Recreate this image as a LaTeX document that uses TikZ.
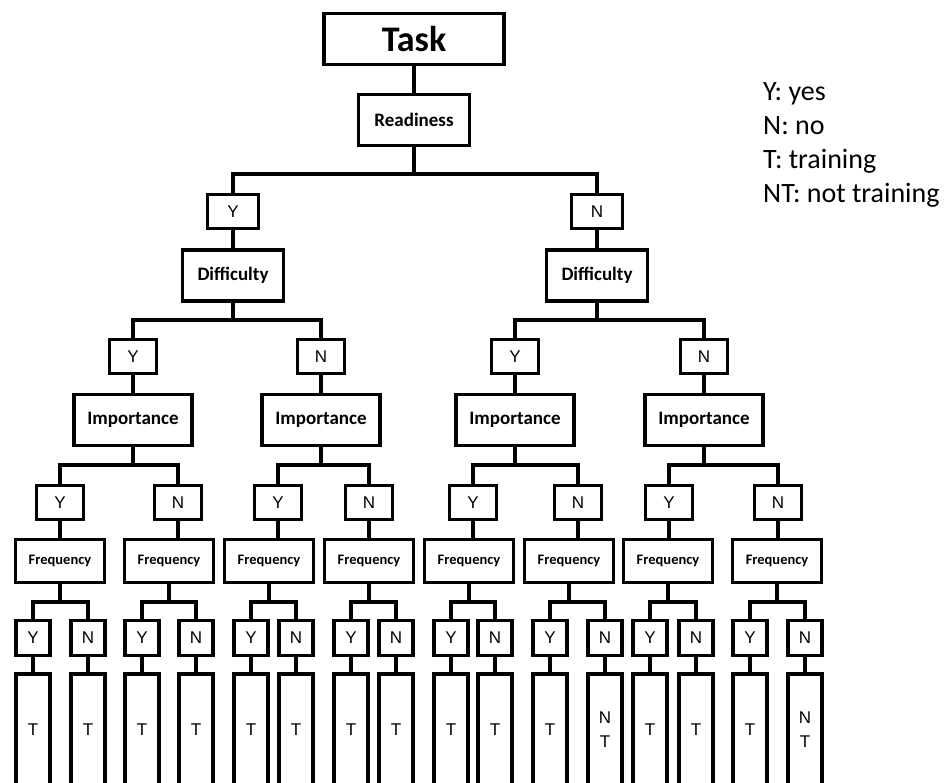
\documentclass[tikz,border=0pt]{standalone}
\usepackage{fontspec}
\setmainfont{Carlito}
\newfontfamily\arialfont{Liberation Sans}
\usepackage{tikz}

\begin{document}
\begin{tikzpicture}
[x=1pt,y=-1pt
,bx/.style={draw,line width=3.8pt,inner sep=0pt,align=center}
,q/.style={bx,font=\bfseries\fontsize{19}{23}\selectfont,minimum height=51pt}
,ans/.style={bx,font=\arialfont\fontsize{17}{19}\selectfont,minimum width=47pt,minimum height=34pt}
,fq/.style={bx,font=\bfseries\fontsize{14.5}{17}\selectfont,minimum width=89pt,minimum height=43pt}
,sans/.style={ans,minimum width=34pt,minimum height=35pt}
,leaf/.style={bx,font=\arialfont\fontsize{17}{24}\selectfont,minimum width=34pt,minimum height=112pt}
,ln/.style={line width=3.6pt}
]
\clip (0,0) rectangle (949,782);
% top
\node[bx,minimum width=180pt,minimum height=51pt,font=\bfseries\fontsize{36}{40}\selectfont] (task) at (414,39) {Task};
\node[q,minimum width=111pt] (rd) at (414,120) {Readiness};
\node[ans,minimum width=51pt] (y) at (233,211.5) {Y};
\node[ans,minimum width=51pt] (n) at (597,211.5) {N};
\node[q,minimum width=101pt] (dy) at (233,275.5) {Difficulty};
\node[q,minimum width=101pt] (dn) at (597,275.5) {Difficulty};
% importance level
\node[ans] (yy) at (133,356.5) {Y};
\node[ans] (yn) at (321,356.5) {N};
\node[ans] (ny) at (515,356.5) {Y};
\node[ans] (nn) at (704,356.5) {N};
\node[q,minimum width=118pt] (iyy) at (133,420) {Importance};
\node[q,minimum width=118pt] (iyn) at (321,420) {Importance};
\node[q,minimum width=118pt] (iny) at (515,420) {Importance};
\node[q,minimum width=118pt] (inn) at (704,420) {Importance};
% frequency level
\node[ans] (yyy) at (60,502.5) {Y};
\node[ans] (yyn) at (178,502.5) {N};
\node[ans] (yny) at (278,502.5) {Y};
\node[ans] (ynn) at (369,502.5) {N};
\node[ans] (nyy) at (473,502.5) {Y};
\node[ans] (nyn) at (578,502.5) {N};
\node[ans] (nny) at (669,502.5) {Y};
\node[ans] (nnn) at (778,502.5) {N};
\node[fq] (fyyy) at (60,561) {Frequency};
\node[fq] (fyyn) at (169,561) {Frequency};
\node[fq] (fyny) at (269,561) {Frequency};
\node[fq] (fynn) at (369,561) {Frequency};
\node[fq] (fnyy) at (469,561) {Frequency};
\node[fq] (fnyn) at (569,561) {Frequency};
\node[fq] (fnny) at (668,561) {Frequency};
\node[fq] (fnnn) at (777,561) {Frequency};
% last answers
\node[sans] (a1) at (33,638) {Y};
\node[sans] (a2) at (88,638) {N};
\node[sans] (a3) at (142,638) {Y};
\node[sans] (a4) at (196,638) {N};
\node[sans] (a5) at (251,638) {Y};
\node[sans] (a6) at (296,638) {N};
\node[sans] (a7) at (351,638) {Y};
\node[sans] (a8) at (396,638) {N};
\node[sans] (a9) at (451,638) {Y};
\node[sans] (a10) at (495,638) {N};
\node[sans] (a11) at (550,638) {Y};
\node[sans] (a12) at (605,638) {N};
\node[sans] (a13) at (650,638) {Y};
\node[sans] (a14) at (696,638) {N};
\node[sans] (a15) at (750,638) {Y};
\node[sans] (a16) at (805,638) {N};
% outcomes
\node[leaf] (t1) at (33,730) {T};
\node[leaf] (t2) at (88,730) {T};
\node[leaf] (t3) at (142,730) {T};
\node[leaf] (t4) at (196,730) {T};
\node[leaf] (t5) at (251,730) {T};
\node[leaf] (t6) at (296,730) {T};
\node[leaf] (t7) at (351,730) {T};
\node[leaf] (t8) at (396,730) {T};
\node[leaf] (t9) at (451,730) {T};
\node[leaf] (t10) at (495,730) {T};
\node[leaf] (t11) at (550,730) {T};
\node[leaf] (t12) at (605,730) {N\\T};
\node[leaf] (t13) at (650,730) {T};
\node[leaf] (t14) at (696,730) {T};
\node[leaf] (t15) at (750,730) {T};
\node[leaf] (t16) at (805,730) {N\\T};
% key
\node[anchor=base west,inner sep=0pt,align=left,font=\fontsize{28}{34}\selectfont] (key) at (763,202) {Y: yes\\N: no\\T: training\\NT: not training};
% connectors
\draw[ln] (task) -- (rd);
\draw[ln] (y.north) -- (y.north |- 0,174) -| (n.north) (rd) -- (rd |- 0,174);
\draw[ln] (y) -- (dy);
\draw[ln] (n) -- (dn);
\draw[ln] (yy.north) -- (yy.north |- 0,320) -| (yn.north) (dy) -- (dy |- 0,320);
\draw[ln] (ny.north) -- (ny.north |- 0,320) -| (nn.north) (dn) -- (dn |- 0,320);
\draw[ln] (yy) -- (iyy);
\draw[ln] (yn) -- (iyn);
\draw[ln] (ny) -- (iny);
\draw[ln] (nn) -- (inn);
\draw[ln] (yyy.north) -- (yyy.north |- 0,465) -| (yyn.north) (iyy) -- (iyy |- 0,465);
\draw[ln] (yny.north) -- (yny.north |- 0,465) -| (ynn.north) (iyn) -- (iyn |- 0,465);
\draw[ln] (nyy.north) -- (nyy.north |- 0,465) -| (nyn.north) (iny) -- (iny |- 0,465);
\draw[ln] (nny.north) -- (nny.north |- 0,465) -| (nnn.north) (inn) -- (inn |- 0,465);
\draw[ln] (yyy) -- (yyy |- fyyy.north);
\draw[ln] (yyn) -- (yyn |- fyyn.north);
\draw[ln] (yny) -- (yny |- fyny.north);
\draw[ln] (ynn) -- (ynn |- fynn.north);
\draw[ln] (nyy) -- (nyy |- fnyy.north);
\draw[ln] (nyn) -- (nyn |- fnyn.north);
\draw[ln] (nny) -- (nny |- fnny.north);
\draw[ln] (nnn) -- (nnn |- fnnn.north);
\draw[ln] (a1.north) -- (a1.north |- 0,602) -| (a2.north) (fyyy) -- (fyyy |- 0,602);
\draw[ln] (a3.north) -- (a3.north |- 0,602) -| (a4.north) (fyyn) -- (fyyn |- 0,602);
\draw[ln] (a5.north) -- (a5.north |- 0,602) -| (a6.north) (fyny) -- (fyny |- 0,602);
\draw[ln] (a7.north) -- (a7.north |- 0,602) -| (a8.north) (fynn) -- (fynn |- 0,602);
\draw[ln] (a9.north) -- (a9.north |- 0,602) -| (a10.north) (fnyy) -- (fnyy |- 0,602);
\draw[ln] (a11.north) -- (a11.north |- 0,602) -| (a12.north) (fnyn) -- (fnyn |- 0,602);
\draw[ln] (a13.north) -- (a13.north |- 0,602) -| (a14.north) (fnny) -- (fnny |- 0,602);
\draw[ln] (a15.north) -- (a15.north |- 0,602) -| (a16.north) (fnnn) -- (fnnn |- 0,602);
\draw[ln] (a1) -- (t1);
\draw[ln] (a2) -- (t2);
\draw[ln] (a3) -- (t3);
\draw[ln] (a4) -- (t4);
\draw[ln] (a5) -- (t5);
\draw[ln] (a6) -- (t6);
\draw[ln] (a7) -- (t7);
\draw[ln] (a8) -- (t8);
\draw[ln] (a9) -- (t9);
\draw[ln] (a10) -- (t10);
\draw[ln] (a11) -- (t11);
\draw[ln] (a12) -- (t12);
\draw[ln] (a13) -- (t13);
\draw[ln] (a14) -- (t14);
\draw[ln] (a15) -- (t15);
\draw[ln] (a16) -- (t16);
\end{tikzpicture}
\end{document}
